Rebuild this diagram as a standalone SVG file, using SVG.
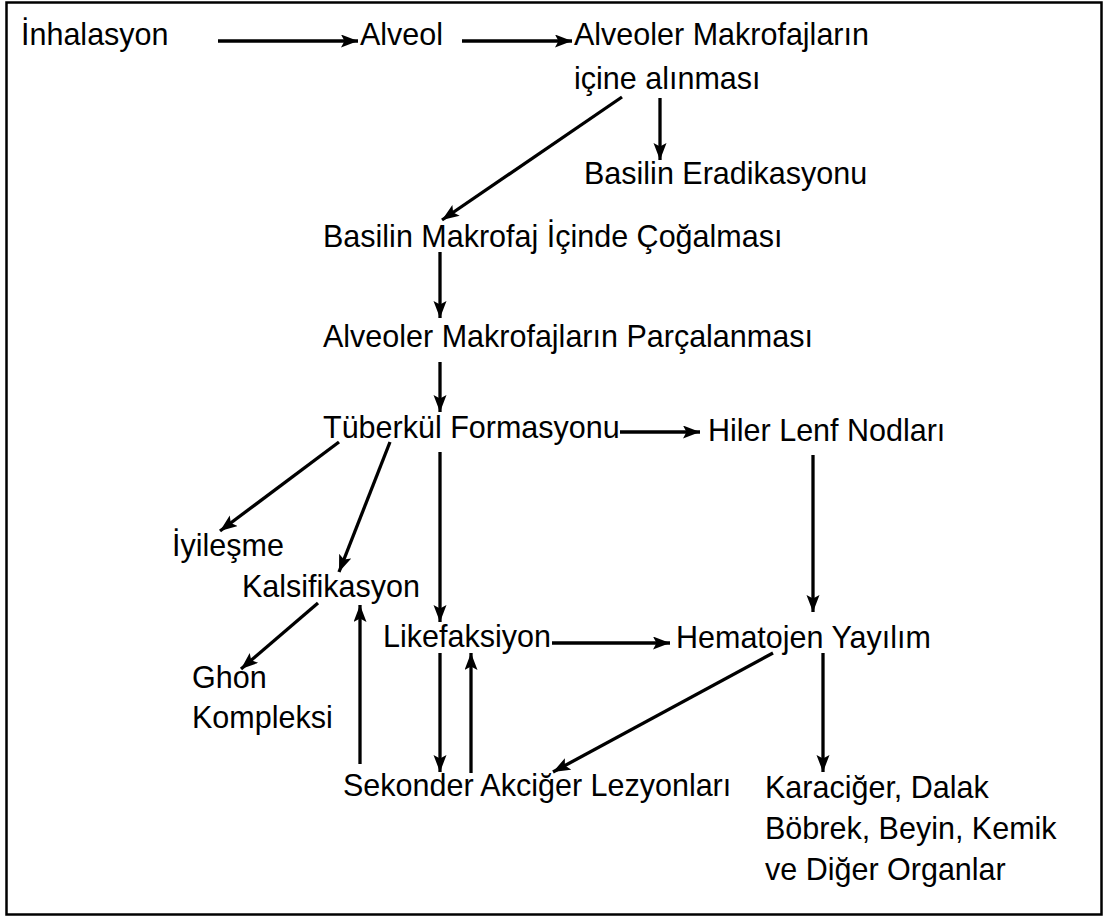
<svg xmlns="http://www.w3.org/2000/svg" width="1107" height="918" viewBox="0 0 1107 918">
<style>
text{font-family:"Liberation Sans",Arial,sans-serif;font-size:30.5px;fill:#000}
.c line{stroke:#000;stroke-width:3.3;marker-end:url(#ah)}
</style>
<defs>
<marker id="ah" markerUnits="userSpaceOnUse" markerWidth="20" markerHeight="14" refX="17" refY="6.5" orient="auto">
<path d="M0,0 L17,6.5 L0,13 L3.5,6.5 z" fill="#000"/>
</marker>
</defs>
<rect x="0" y="0" width="1107" height="918" fill="#fff"/>
<rect x="6.5" y="2.5" width="1095" height="912" fill="none" stroke="#000" stroke-width="2.5"/>
<g class="c" id="connectors">
<line x1="218" y1="41" x2="358" y2="41"/>
<line x1="462" y1="41" x2="572" y2="41"/>
<line x1="622" y1="97" x2="442" y2="220"/>
<line x1="660" y1="98" x2="660" y2="160"/>
<line x1="440" y1="252" x2="440" y2="318"/>
<line x1="440" y1="362" x2="440" y2="412"/>
<line x1="620" y1="432" x2="700" y2="432"/>
<line x1="339" y1="442" x2="220" y2="531"/>
<line x1="390" y1="442" x2="339" y2="572"/>
<line x1="440" y1="452" x2="440" y2="622"/>
<line x1="813" y1="455" x2="813" y2="612"/>
<line x1="318" y1="603" x2="241" y2="669"/>
<line x1="360" y1="764" x2="360" y2="605"/>
<line x1="552" y1="643" x2="670" y2="643"/>
<line x1="440" y1="653" x2="440" y2="772"/>
<line x1="471" y1="773" x2="471" y2="653"/>
<line x1="773" y1="653" x2="553" y2="772"/>
<line x1="823" y1="653" x2="823" y2="772"/>
</g>
<g id="n-inhalasyon"><text x="21" y="45">İnhalasyon</text></g>
<g id="n-alveol"><text x="360" y="45">Alveol</text></g>
<g id="n-alveoler-makrofaj"><text x="574" y="45">Alveoler Makrofajların</text><text x="574" y="89">içine alınması</text></g>
<g id="n-eradikasyon"><text x="584" y="184">Basilin Eradikasyonu</text></g>
<g id="n-cogalma"><text x="323" y="247">Basilin Makrofaj İçinde Çoğalması</text></g>
<g id="n-parcalanma"><text x="323" y="347">Alveoler Makrofajların Parçalanması</text></g>
<g id="n-tuberkul"><text x="323" y="438">Tüberkül Formasyonu</text></g>
<g id="n-hiler"><text x="708" y="441">Hiler Lenf Nodları</text></g>
<g id="n-iyilesme"><text x="172" y="556">İyileşme</text></g>
<g id="n-kalsifikasyon"><text x="242" y="597">Kalsifikasyon</text></g>
<g id="n-likefaksiyon"><text x="383" y="647">Likefaksiyon</text></g>
<g id="n-hematojen"><text x="676" y="648">Hematojen Yayılım</text></g>
<g id="n-ghon"><text x="192" y="688">Ghon</text><text x="192" y="728">Kompleksi</text></g>
<g id="n-sekonder"><text x="343" y="796">Sekonder Akciğer Lezyonları</text></g>
<g id="n-organlar"><text x="765" y="798">Karaciğer, Dalak</text><text x="765" y="839">Böbrek, Beyin, Kemik</text><text x="765" y="880">ve Diğer Organlar</text></g>
</svg>
